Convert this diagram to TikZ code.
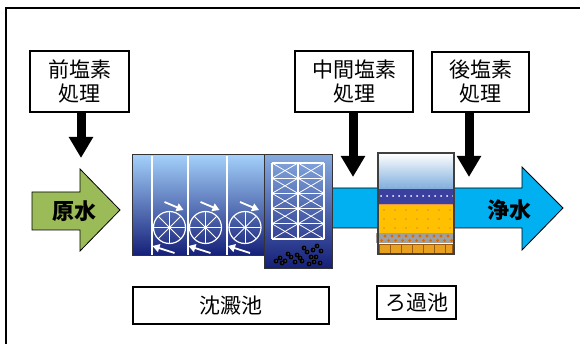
\documentclass[tikz,border=0pt]{standalone}
\usepackage{fontspec}
\newfontfamily\jpfont{Noto Sans CJK JP}
\usetikzlibrary{arrows.meta}
\definecolor{rawgreen}{HTML}{9BBB59}
\definecolor{cleanblue}{HTML}{00B0F0}
\definecolor{tanktop}{HTML}{A3D0FA}
\definecolor{tankbot}{HTML}{141E78}
\definecolor{settop}{HTML}{86AAE0}
\definecolor{sandyel}{HTML}{FFC000}
\definecolor{sanddot}{HTML}{D86A00}
\definecolor{brick}{HTML}{E8A020}
\definecolor{brickline}{HTML}{9A5A10}
\definecolor{bandblue}{HTML}{3B3F9E}
\newcommand{\lblfont}{\jpfont\fontsize{21}{24}\selectfont}
\newcommand{\flowfont}{\jpfont\bfseries\fontsize{22}{24}\selectfont}
\tikzset{
  chlorbox/.style={draw, line width=1.2pt, fill=white, align=center, inner sep=0pt, font=\lblfont},
  chlor/.style={line width=9pt, -{Triangle[width=23pt,length=21pt]}},
  wheelarrow/.style={white, line width=1.8pt, -{Triangle[width=8pt,length=7pt]}},
}

\begin{document}
\begin{tikzpicture}[x=1pt,y=-1pt]
\useasboundingbox (0,0) rectangle (580,344);
\draw[line width=1.2pt] (6,350) -- (6,8) -- (590,8);

\node[chlorbox, minimum width=99, minimum height=61] (pre) at (79.5,81.5) {前塩素\\処理};
\node[chlorbox, minimum width=118, minimum height=61] (mid) at (354,81.5) {中間塩素\\処理};
\node[chlorbox, minimum width=97, minimum height=60] (post) at (480.5,82) {後塩素\\処理};
\coordinate (pre-tip) at (81,158);
\coordinate (mid-tip) at (353,177);
\coordinate (post-tip) at (469,177);
\draw[chlor] (pre.south -| pre-tip) -- (pre-tip);
\draw[chlor] (mid.south -| mid-tip) -- (mid-tip);
\draw[chlor] (post.south -| post-tip) -- (post-tip);

\filldraw[fill=rawgreen, line width=0.8pt] (32,192) -- (80,192) -- (80,169) -- (120,210) -- (80,251) -- (80,230) -- (32,230) -- cycle;
\node[font=\flowfont] (raw) at (74,211) {原水};
\filldraw[fill=cleanblue, line width=0.8pt] (330,188) -- (522,188) -- (522,167) -- (563,208) -- (522,250) -- (522,228) -- (330,228) -- cycle;
\node[font=\flowfont] (clean) at (509,210) {浄水};

\shade[top color=tanktop, bottom color=tankbot] (132,155) rectangle (264,256);
\draw[line width=1pt, black!80] (132,155) rectangle (264,256);
\foreach \x in {152,188,227}
  \draw[white, line width=1.5pt] (\x,156) -- (\x,255);
\foreach \cx in {169.5,205.5,245} {
  \draw[white, line width=1.2pt] (\cx,227.5) circle (16);
  \foreach \a in {0,45,90,135}
    \draw[white, line width=0.9pt] ([shift={(\a:16)}]\cx,227.5) -- ([shift={(\a+180:16)}]\cx,227.5);
  \draw[wheelarrow] ({\cx-5},202) -- ({\cx+14},210);
  \draw[wheelarrow] ({\cx+5},253) -- ({\cx-17},246);
}

\shade[top color=settop, bottom color=tankbot] (264,155) rectangle (332,269);
\draw[line width=1pt, black!80] (264,155) rectangle (332,269);
\foreach \r in {0,...,5}
  \draw[white, line width=1.2pt] (272,{163+15.2*\r}) -- (324,{163+15.2*\r});
\foreach \x in {272,298,324}
  \draw[white, line width=1.2pt] (\x,163) -- (\x,239);
\foreach \c in {0,1}
  \foreach \r in {0,...,4} {
    \draw[white, line width=0.8pt] ({272+26*\c},{163+15.2*\r}) -- ({298+26*\c},{178.2+15.2*\r});
    \draw[white, line width=0.8pt] ({298+26*\c},{163+15.2*\r}) -- ({272+26*\c},{178.2+15.2*\r});
  }
\foreach \p in {(280,258),(285,261),(291,257),(297,255),(302,261),(307,252),(313,250),(316,257),(320,263),(309,264),(295,262),(288,254),(282,263),(311,257),(321,251),(304,248),(317,246),(276,261),(300,258),(314,262)} {
  \fill[black] \p circle (2.4);
  \fill[white] \p circle (0.5);
}

\shade[top color=white, bottom color=cleanblue!45!bandblue!60] (378,153) rectangle (454,190);
\fill[bandblue] (378,189) rectangle (454,204);
\foreach \x in {381,387,...,453}
  \fill[white] (\x,196) circle (1);
\foreach \x in {384,390,...,450}
  \fill[white!60!bandblue] (\x,186) circle (0.9);
\filldraw[fill=sandyel, draw=sanddot!70, line width=0.6pt] (378,204) rectangle (454,233);
\foreach \x in {384,395,...,450}
  \foreach \y in {210,219,228}
    \fill[sanddot!80] (\x,\y) circle (0.8);
\fill[gray!75] (376,233) rectangle (454,243);
\foreach \x in {378,385,...,452}
  \fill[sanddot] (\x,236) circle (1.7);
\foreach \x in {381.5,388.5,...,452}
  \fill[sanddot] (\x,240.5) circle (1.5);
\filldraw[fill=brick, draw=brickline, line width=0.8pt] (379,244) rectangle (452,253);
\foreach \x in {390,401,...,445}
  \draw[brickline, line width=0.8pt] (\x,244) -- (\x,253);
\draw[line width=1.2pt, black!75] (378,153) rectangle (454,254);

\node[chlorbox, minimum width=196, minimum height=37] (sed) at (231,305.5) {沈澱池};
\node[chlorbox, minimum width=79, minimum height=33] (filt) at (416.5,302.5) {ろ過池};
\end{tikzpicture}
\end{document}
